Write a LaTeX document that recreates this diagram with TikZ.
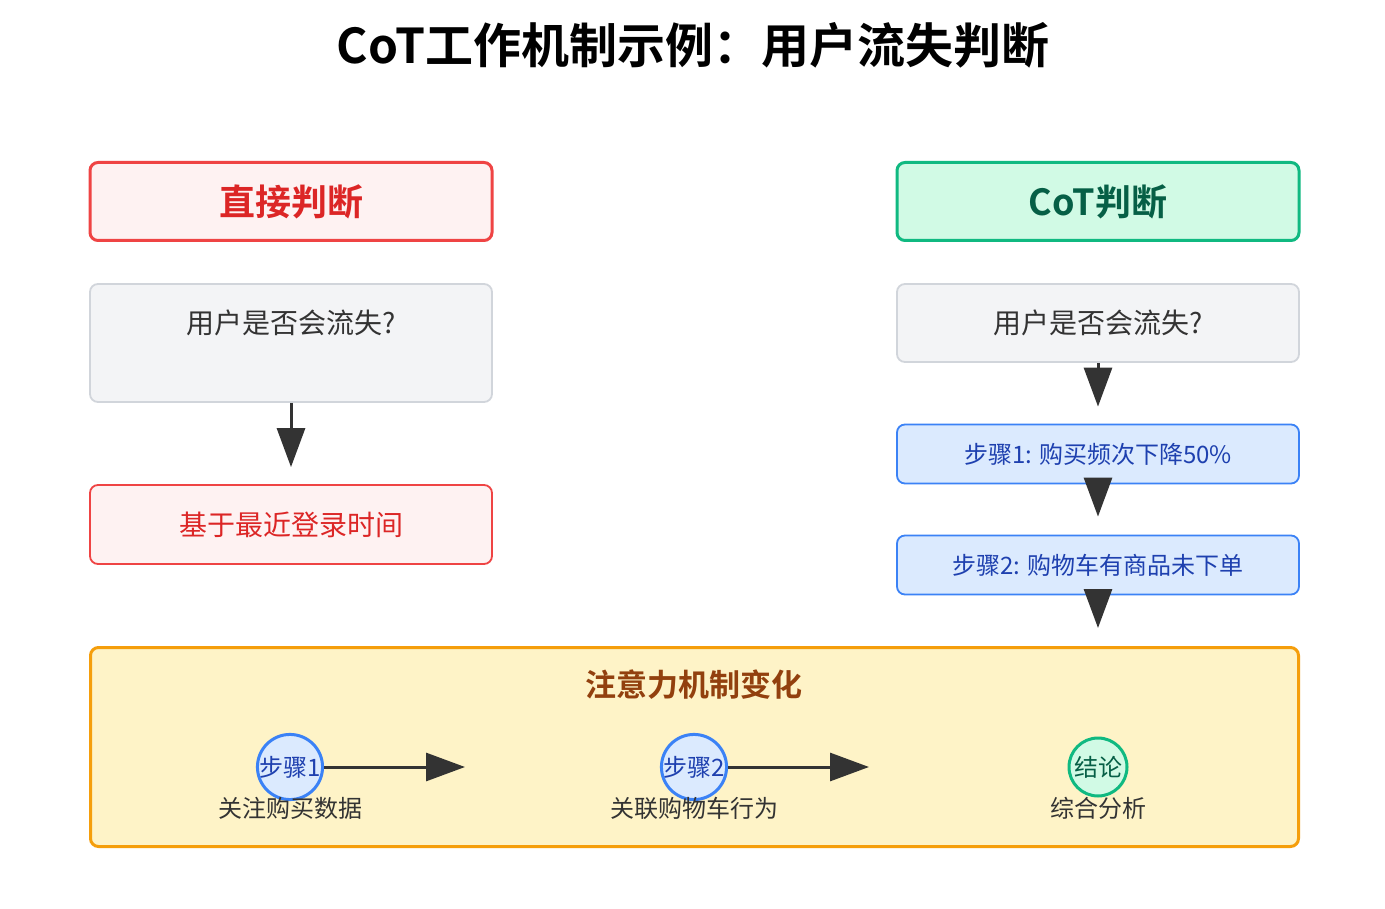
\documentclass[tikz,border=0pt]{standalone}
\usepackage{fontspec}
\setmainfont{Noto Sans CJK SC}[BoldFont={Noto Sans CJK SC Bold}]
\usetikzlibrary{arrows.meta}
\definecolor{redB}{HTML}{EF4444}
\definecolor{redF}{HTML}{FEF2F2}
\definecolor{redT}{HTML}{DC2626}
\definecolor{grnB}{HTML}{10B981}
\definecolor{grnF}{HTML}{D1FAE5}
\definecolor{grnT}{HTML}{065F46}
\definecolor{gryB}{HTML}{D1D5DB}
\definecolor{gryF}{HTML}{F3F4F6}
\definecolor{txt}{HTML}{333333}
\definecolor{bluB}{HTML}{3B82F6}
\definecolor{bluF}{HTML}{DBEAFE}
\definecolor{bluT}{HTML}{1E40AF}
\definecolor{ylwB}{HTML}{F59E0B}
\definecolor{ylwF}{HTML}{FEF3C7}
\definecolor{ylwT}{HTML}{92400E}
\tikzset{
  box/.style={rectangle, rounded corners=8pt, inner sep=0pt, minimum width=402pt},
  hdr/.style={box, line width=3pt, minimum height=78pt, font=\fontsize{36}{40}\selectfont\bfseries},
  qbox/.style={box, draw=gryB, fill=gryF, line width=1.8pt},
  stepbox/.style={box, draw=bluB, fill=bluF, line width=1.8pt, minimum height=59pt, text=bluT, font=\fontsize{24}{28}\selectfont},
  qtext/.style={inner sep=0pt, text=txt, font=\fontsize{28}{32}\selectfont},
  arr/.style={draw=txt, line width=3pt, -{Triangle[length=39pt,width=28pt]}},
  circ/.style={circle, line width=3pt, minimum size=58pt, inner sep=0pt, font=\fontsize{24}{28}\selectfont},
  lbl/.style={inner sep=0pt, text=txt, font=\fontsize{24}{28}\selectfont},
}
\begin{document}
\begin{tikzpicture}[x=1pt,y=-1pt]
\path[fill=white] (0,0) rectangle (1385,909);
\useasboundingbox (0,0) rectangle (1385,909);

\node[inner sep=0pt, font=\fontsize{48}{56}\selectfont\bfseries] (title) at (693,45) {CoT工作机制示例：用户流失判断};

% left column
\node[hdr, draw=redB, fill=redF, text=redT] (hL) at (291,201.5) {直接判断};
\node[qbox, minimum height=118pt] (qL) at (291,343) {};
\node[qtext] (qLt) at (291,323) {用户是否会流失?};
\node[box, draw=redB, fill=redF, line width=1.8pt, minimum height=79pt, text=redT, font=\fontsize{28}{32}\selectfont] (rL) at (291,524.5) {基于最近登录时间};
\draw[arr, shorten >=17pt] (qL.south) -- (rL.north);

% right column
\node[hdr, draw=grnB, fill=grnF, text=grnT] (hR) at (1098,201.5) {CoT判断};
\node[qbox, minimum height=78pt] (qR) at (1098,323) {};
\node[qtext] (qRt) at (1098,323) {用户是否会流失?};
\node[stepbox] (s1) at (1098,454) {步骤1: 购买频次下降50\%};
\node[stepbox] (s2) at (1098,565) {步骤2: 购物车有商品未下单};
\draw[arr, shorten >=17pt] (qR.south) -- (s1.north);
\draw[arr, shorten >=18pt] (s1.south) -- (s2.north);

% bottom panel
\node[rectangle, rounded corners=8pt, draw=ylwB, fill=ylwF, line width=3pt, minimum width=1208pt, minimum height=199pt, inner sep=0pt] (bot) at (694.5,747) {};
\coordinate (t3) at (1098,628);
\draw[arr] (s2.south) -- (t3);
\node[inner sep=0pt, text=ylwT, font=\fontsize{31}{36}\selectfont\bfseries] (botT) at (694,685) {注意力机制变化};

\node[circ, draw=bluB, fill=bluF, text=bluT] (c1) at (290,767) {步骤1};
\node[circ, draw=bluB, fill=bluF, text=bluT] (c2) at (694,767) {步骤2};
\node[circ, draw=grnB, fill=grnF, text=grnT] (c3) at (1098,767) {结论};
\coordinate (t4) at (465,767);
\coordinate (t5) at (869,767);
\draw[arr] (c1.east) -- (t4);
\draw[arr] (c2.east) -- (t5);
\node[lbl] (l1) at (290,808) {关注购买数据};
\node[lbl] (l2) at (694,808) {关联购物车行为};
\node[lbl] (l3) at (1098,808) {综合分析};
\end{tikzpicture}
\end{document}
